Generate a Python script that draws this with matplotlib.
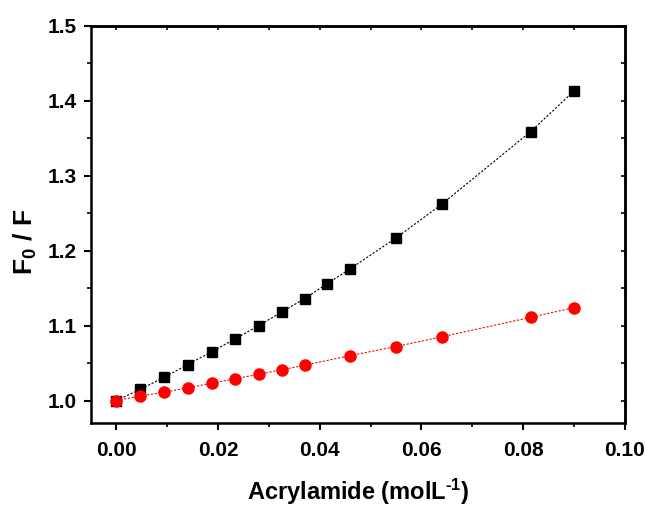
import matplotlib
matplotlib.use("Agg")
import matplotlib.pyplot as plt
from matplotlib.ticker import MultipleLocator

plt.rcParams['font.family'] = ['Liberation Sans', 'DejaVu Sans']
plt.rcParams['font.weight'] = 'bold'
plt.rcParams['mathtext.fontset'] = 'custom'
plt.rcParams['mathtext.rm'] = 'Liberation Sans:bold'
plt.rcParams['mathtext.default'] = 'rm'

x_sq = [0.0, 0.0047, 0.0094, 0.0140, 0.0187, 0.0233, 0.0280, 0.0325, 0.0370, 0.0415, 0.0460, 0.0550, 0.0640, 0.0815, 0.0900]
y_sq = [1.000, 1.015, 1.031, 1.048, 1.065, 1.082, 1.100, 1.118, 1.136, 1.156, 1.176, 1.217, 1.262, 1.359, 1.413]
x_ci = [0.0, 0.0047, 0.0094, 0.0140, 0.0187, 0.0233, 0.0280, 0.0325, 0.0370, 0.0460, 0.0550, 0.0640, 0.0815, 0.0900]
y_ci = [1.000, 1.006, 1.011, 1.017, 1.023, 1.029, 1.035, 1.041, 1.047, 1.060, 1.072, 1.085, 1.111, 1.124]

fig = plt.figure(figsize=(6.46, 5.09), dpi=100)
ax = fig.add_axes([0.141, 0.169, 0.826, 0.780])

ax.plot(x_sq, y_sq, color='black', ls=(0, (2, 1.5)), lw=0.8, marker='s', ms=7, mec='black', mfc='black')
ax.plot(x_ci, y_ci, color='red', ls=(0, (2, 1.5)), lw=0.8, marker='o', ms=8, mec='red', mfc='red')

ax.set_xlim(-0.005, 0.10)
ax.set_ylim(0.97, 1.5)
ax.xaxis.set_major_locator(MultipleLocator(0.02))
ax.xaxis.set_minor_locator(MultipleLocator(0.01))
ax.yaxis.set_major_locator(MultipleLocator(0.1))
ax.yaxis.set_minor_locator(MultipleLocator(0.05))
ax.xaxis.set_major_formatter(plt.FuncFormatter(lambda v, p: f"{v:.2f}"))
ax.yaxis.set_major_formatter(plt.FuncFormatter(lambda v, p: f"{v:.1f}"))

for s in ax.spines.values():
    s.set_linewidth(1.8)
ax.tick_params(which='major', direction='out', length=5, width=1.5, labelsize=15)
ax.tick_params(axis='x', which='major', pad=8)
ax.tick_params(axis='y', which='major', pad=5)
ax.tick_params(which='minor', direction='out', length=3, width=1.2)
ax.tick_params(which='both', top=False, right=False)

sec_y = ax.secondary_yaxis('right')
sec_y.yaxis.set_major_locator(MultipleLocator(0.1))
sec_y.yaxis.set_minor_locator(MultipleLocator(0.05))
sec_y.tick_params(which='both', direction='in', labelright=False, width=1.2, length=3)
sec_y.spines['right'].set_linewidth(1.8)
sec_x = ax.secondary_xaxis('top')
sec_x.xaxis.set_major_locator(MultipleLocator(0.02))
sec_x.xaxis.set_minor_locator(MultipleLocator(0.01))
sec_x.tick_params(which='both', direction='in', labeltop=False, width=1.2, length=3)
sec_x.spines['top'].set_linewidth(1.8)

for lab in ax.get_xticklabels() + ax.get_yticklabels():
    lab.set_fontweight('bold')

ax.set_ylabel('F$_0$ / F', fontsize=19, fontweight='bold')
ax.yaxis.set_label_coords(-0.097, 0.456)
ax.set_xlabel(r'Acrylamide (molL$^{\text{-1}}$)', fontsize=17, fontweight='bold', labelpad=12)

fig.savefig('out.png', dpi=100)
